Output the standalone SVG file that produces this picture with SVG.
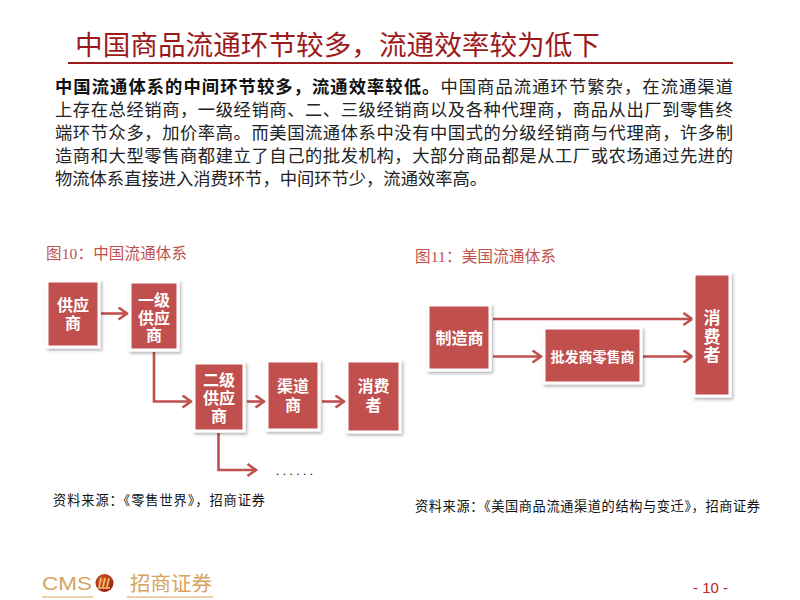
<svg xmlns="http://www.w3.org/2000/svg" width="800" height="600" viewBox="0 0 800 600">
<style>
.title{font-family:"Liberation Sans","Noto Sans CJK SC",sans-serif;font-size:27px;fill:#9C1A1C;}
.para{font-family:"Liberation Serif","Noto Sans CJK SC",serif;font-size:17.3px;fill:#222;}
.bold{font-weight:bold;fill:#111;}
.cap{font-family:"Liberation Serif","Noto Sans CJK SC",serif;font-size:15.5px;fill:#C0504D;}
.src{font-family:"Liberation Sans","Noto Sans CJK SC",sans-serif;font-size:13.2px;fill:#111;}
.box{fill:#C0504D;stroke:#ffffff;stroke-width:3;filter:url(#sh);}
.bt{font-family:"Liberation Serif","Noto Sans CJK SC",serif;font-size:16px;fill:#ffffff;text-anchor:middle;font-weight:bold;}
.conn{fill:none;stroke:#C0504D;stroke-width:2.6;marker-end:url(#arr);}
.gold{fill:#D6A45E;}
</style>
<defs>
<filter id="sh" x="-20%" y="-20%" width="150%" height="150%">
<feDropShadow dx="1.5" dy="2" stdDeviation="1.5" flood-color="#000" flood-opacity="0.3"/>
</filter>
<marker id="arr" markerUnits="userSpaceOnUse" markerWidth="14" markerHeight="16" refX="10" refY="7" orient="auto" viewBox="0 0 14 16">
<path d="M1.5,1 L10,7 L1.5,13" fill="none" stroke="#C0504D" stroke-width="2.6"/>
</marker>
<radialGradient id="lg" cx="0.4" cy="0.35" r="0.7">
<stop offset="0" stop-color="#E0602A"/>
<stop offset="1" stop-color="#8E1A10"/>
</radialGradient>
</defs>
<rect width="800" height="600" fill="#ffffff"/>

<text class="title" x="75" y="55" textLength="525" lengthAdjust="spacingAndGlyphs">中国商品流通环节较多，流通效率较为低下</text>
<line x1="68" y1="63" x2="733" y2="63" stroke="#9C1A1C" stroke-width="2"/>

<g id="paragraph">
<text class="para" x="55" y="93" textLength="678" lengthAdjust="spacing"><tspan class="bold">中国流通体系的中间环节较多，流通效率较低。</tspan>中国商品流通环节繁杂，在流通渠道</text>
<text class="para" x="55" y="116" textLength="678" lengthAdjust="spacing">上存在总经销商，一级经销商、二、三级经销商以及各种代理商，商品从出厂到零售终</text>
<text class="para" x="55" y="139" textLength="678" lengthAdjust="spacing">端环节众多，加价率高。而美国流通体系中没有中国式的分级经销商与代理商，许多制</text>
<text class="para" x="55" y="162" textLength="678" lengthAdjust="spacing">造商和大型零售商都建立了自己的批发机构，大部分商品都是从工厂或农场通过先进的</text>
<text class="para" x="55" y="185">物流体系直接进入消费环节，中间环节少，流通效率高。</text>
</g>

<text class="cap" x="46" y="259" textLength="141" lengthAdjust="spacing">图10：中国流通体系</text>
<text class="cap" x="415" y="262" textLength="141" lengthAdjust="spacing">图11：美国流通体系</text>

<g id="connectors">
<path class="conn" d="M101,313.5 H127"/>
<path class="conn" d="M154,352 V401.5 H191"/>
<path class="conn" d="M247,401.5 H264"/>
<path class="conn" d="M322,401.5 H344"/>
<path class="conn" d="M218.5,433 V470 H256"/>
<path class="conn" d="M493,319 H692"/>
<path class="conn" d="M493,356.5 H541"/>
<path class="conn" d="M643,356.5 H692"/>
</g>

<g id="n-supplier">
<rect class="box" x="47" y="281" width="52" height="66"/>
<text class="bt" x="73" y="310.5">供应</text>
<text class="bt" x="73" y="329">商</text>
</g>
<g id="n-level1">
<rect class="box" x="130" y="282" width="48" height="68"/>
<text class="bt" x="154" y="306">一级</text>
<text class="bt" x="154" y="323.5">供应</text>
<text class="bt" x="154" y="341">商</text>
</g>
<g id="n-level2">
<rect class="box" x="194" y="363" width="50" height="68"/>
<text class="bt" x="219" y="385.5">二级</text>
<text class="bt" x="219" y="403.5">供应</text>
<text class="bt" x="219" y="421.5">商</text>
</g>
<g id="n-channel">
<rect class="box" x="267" y="361" width="52" height="69"/>
<text class="bt" x="293" y="392">渠道</text>
<text class="bt" x="293" y="410.5">商</text>
</g>
<g id="n-consumer-cn">
<rect class="box" x="347" y="361" width="53" height="71"/>
<text class="bt" x="373.5" y="392">消费</text>
<text class="bt" x="373.5" y="410.5">者</text>
</g>
<text x="276" y="475" font-family="Liberation Serif,Noto Sans CJK SC,serif" font-size="13" fill="#222" textLength="37" lengthAdjust="spacing">......</text>

<g id="n-maker">
<rect class="box" x="428" y="305" width="62" height="65"/>
<text class="bt" x="459.5" y="344">制造商</text>
</g>
<g id="n-wholesale">
<rect class="box" x="544" y="328" width="97" height="55"/>
<text class="bt" x="592.5" y="361.5" style="font-size:14px">批发商零售商</text>
</g>
<g id="n-consumer-us">
<rect class="box" x="694" y="274" width="36" height="122"/>
<text class="bt" x="712" y="324" style="font-size:17px">消</text>
<text class="bt" x="712" y="342.5" style="font-size:17px">费</text>
<text class="bt" x="712" y="361" style="font-size:17px">者</text>
</g>

<text class="src" x="53" y="505" textLength="212" lengthAdjust="spacing">资料来源：《零售世界》，招商证券</text>
<text class="src" x="415" y="511" textLength="345" lengthAdjust="spacing">资料来源：《美国商品流通渠道的结构与变迁》，招商证券</text>

<g id="footer">
<text class="gold" x="42" y="590" font-family="Liberation Sans,sans-serif" font-size="18.5" textLength="50" lengthAdjust="spacingAndGlyphs">CMS</text>
<line x1="42" y1="597" x2="93" y2="597" stroke="#D6A45E" stroke-width="1"/>
<circle cx="104.5" cy="583" r="9" fill="url(#lg)"/>
<path d="M99,587 L101,578 M103,587 L105,578 M107,587 L109,578 M98,588 H110" stroke="#F2C76A" stroke-width="1.6" fill="none"/>
<text class="gold" x="130" y="591" font-family="Noto Sans CJK SC,sans-serif" font-size="20.5" textLength="82" lengthAdjust="spacing">招商证券</text>
<line x1="127" y1="597" x2="213" y2="597" stroke="#D6A45E" stroke-width="1"/>
<text x="693" y="592.5" font-family="Liberation Sans,sans-serif" font-size="15.5" fill="#C0262B" textLength="35" lengthAdjust="spacingAndGlyphs">- 10 -</text>
</g>
</svg>
